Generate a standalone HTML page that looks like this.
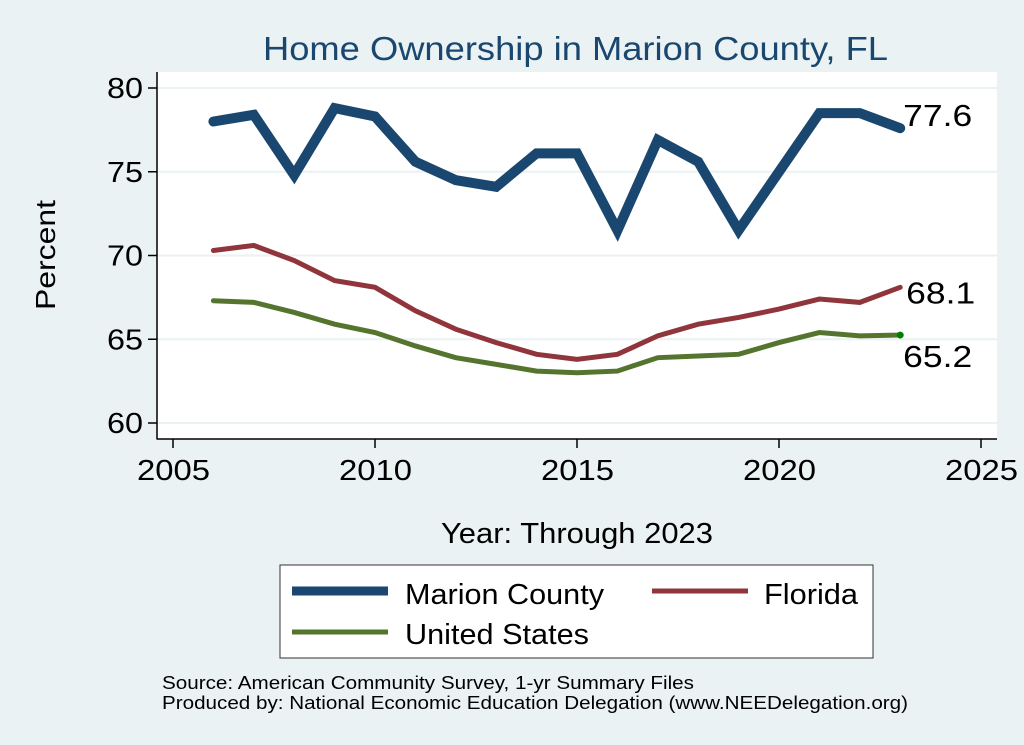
<!DOCTYPE html>
<html><head><meta charset="utf-8"><style>
body{margin:0;background:#eaf2f3;}
svg{display:block;font-family:"Liberation Sans",sans-serif;}
</style></head><body>
<svg width="1024" height="745">
<rect x="0" y="0" width="1024" height="745" fill="#eaf2f3"/>
<text x="263" y="60" font-size="33" fill="#1a476f" textLength="625" lengthAdjust="spacingAndGlyphs">Home Ownership in Marion County, FL</text>
<rect x="157" y="72" width="840" height="367" fill="#fff"/>
<g id="grid"></g>
<g id="axes"></g>
<g id="series"></g>
<text transform="translate(55,310) rotate(-90)" font-size="28" textLength="110" lengthAdjust="spacingAndGlyphs">Percent</text>
<text x="441" y="543" font-size="29" textLength="272" lengthAdjust="spacingAndGlyphs">Year: Through 2023</text>
<g>
<rect x="280" y="565" width="593" height="93" fill="#fff" stroke="#333" stroke-width="1"/>
<line x1="292" y1="591" x2="388" y2="591" stroke="#1a476f" stroke-width="9"/>
<text x="405" y="604" font-size="29" textLength="199" lengthAdjust="spacingAndGlyphs">Marion County</text>
<line x1="652" y1="591" x2="748" y2="591" stroke="#90353b" stroke-width="5"/>
<text x="764" y="604" font-size="29" textLength="94" lengthAdjust="spacingAndGlyphs">Florida</text>
<line x1="292" y1="632" x2="388" y2="632" stroke="#55752f" stroke-width="5"/>
<text x="405" y="644" font-size="29" textLength="184" lengthAdjust="spacingAndGlyphs">United States</text>
</g>
<text x="162" y="689" font-size="18" textLength="532" lengthAdjust="spacingAndGlyphs">Source: American Community Survey, 1-yr Summary Files</text>
<text x="162" y="709" font-size="18" textLength="746" lengthAdjust="spacingAndGlyphs">Produced by: National Economic Education Delegation (www.NEEDelegation.org)</text>
</svg>
<script>
const years=[2006,2007,2008,2009,2010,2011,2012,2013,2014,2015,2016,2017,2018,2019,2020,2021,2022,2023];
const marion=[78.0,78.4,74.8,78.8,78.3,75.6,74.5,74.1,76.1,76.1,71.5,76.9,75.6,71.5,75.0,78.5,78.5,77.6];
const florida=[70.3,70.6,69.7,68.5,68.1,66.7,65.6,64.8,64.1,63.8,64.1,65.2,65.9,66.3,66.8,67.4,67.2,68.1];
const us=[67.3,67.2,66.6,65.9,65.4,64.6,63.9,63.5,63.1,63.0,63.1,63.9,64.0,64.1,64.8,65.4,65.2,65.25];
const yTicks=[60,65,70,75,80];
const xTicks=[2005,2010,2015,2020,2025];
const endLabels=["77.6","68.1","65.2"];
const NS="http://www.w3.org/2000/svg";
function xs(v){return 173+(v-2005)*40.4;}
function ys(v){return 423-(v-60)*16.75;}
function mk(tag,attrs,parent){const e=document.createElementNS(NS,tag);for(const k in attrs)e.setAttribute(k,attrs[k]);document.getElementById(parent).appendChild(e);return e;}
yTicks.forEach(t=>{
  const g=mk('line',{x1:157,x2:997,y1:ys(t),y2:ys(t),stroke:'#eaf2f3','stroke-width':2},'grid');
  
  
  const tk=mk('line',{x1:148,x2:157,y1:ys(t),y2:ys(t),stroke:'#000','stroke-width':1.5},'axes');
  
  
  const l=mk('text',{x:107,y:ys(t)+10,'font-size':29,textLength:36,lengthAdjust:'spacingAndGlyphs'},'axes');
  l.textContent=t;
  
  
});
xTicks.forEach(t=>{
  const tk=mk('line',{x1:xs(t),x2:xs(t),y1:439,y2:448,stroke:'#000','stroke-width':1.5},'axes');
  
  
  const l=mk('text',{x:xs(t)-36,y:480,'font-size':29,textLength:73,lengthAdjust:'spacingAndGlyphs'},'axes');
  l.textContent=t;
  
  
});
const ax1=mk('line',{x1:157,x2:157,y1:72,y2:439.5,stroke:'#000','stroke-width':1.5},'axes');


const ax2=mk('line',{x1:157,x2:997,y1:439,y2:439,stroke:'#000','stroke-width':1.5},'axes');


function draw(vals,color,w,name){
  const p=mk('polyline',{points:vals.map((v,i)=>xs(years[i])+','+ys(v)).join(' '),fill:'none',stroke:color,'stroke-width':w,'stroke-linejoin':'miter','stroke-linecap':'round'},'series');
  
  
}
draw(us,'#55752f',5,'us-line');
draw(florida,'#90353b',5,'florida-line');
draw(marion,'#1a476f',10,'marion-line');
const d=mk('circle',{cx:xs(2023),cy:ys(us[us.length-1]),r:3.5,fill:'#008000'},'series');


const lx=xs(2023);
const l1=mk('text',{x:lx+3,y:ys(marion[17])-2,'font-size':31,textLength:69,lengthAdjust:'spacingAndGlyphs'},'series');l1.textContent=endLabels[0];


const l2=mk('text',{x:lx+6,y:ys(florida[17])+16,'font-size':31,textLength:69,lengthAdjust:'spacingAndGlyphs'},'series');l2.textContent=endLabels[1];


const l3=mk('text',{x:lx+3,y:ys(us[17])+32,'font-size':31,textLength:69,lengthAdjust:'spacingAndGlyphs'},'series');l3.textContent=endLabels[2];


</script>
</body></html>
